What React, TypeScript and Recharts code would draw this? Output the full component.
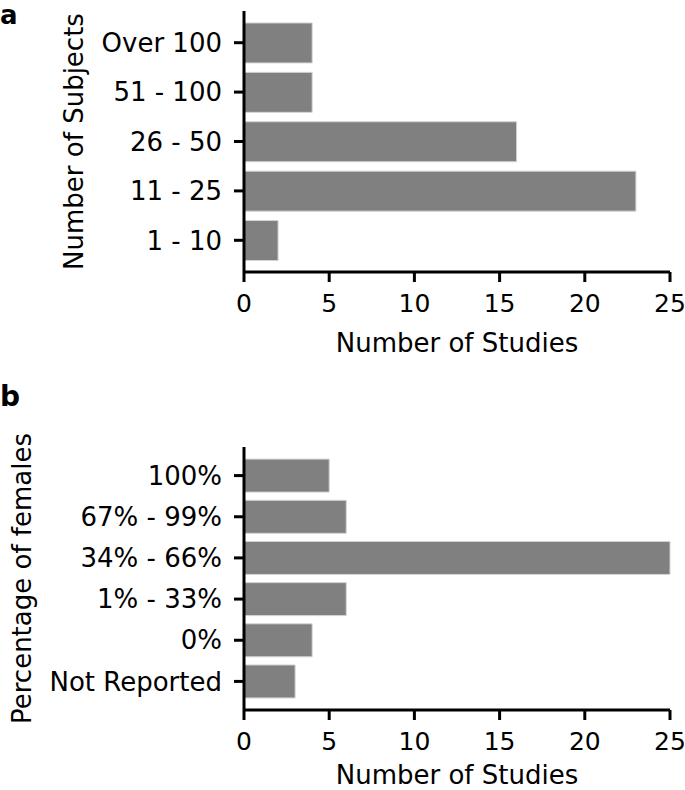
import React from "react";
import { BarChart, Bar, XAxis, YAxis, Label } from "recharts";

const subjectGroups = ["Over 100", "51 - 100", "26 - 50", "11 - 25", "1 - 10"];
const subjectStudies = [4, 4, 16, 23, 2];

const femaleGroups = ["100%", "67% - 99%", "34% - 66%", "1% - 33%", "0%", "Not Reported"];
const femaleStudies = [5, 6, 25, 6, 4, 3];

const studyTicks = [0, 5, 10, 15, 20, 25];

const FONT = "'DejaVu Sans', sans-serif";
const AXIS = { stroke: "#000", strokeWidth: 3 };
const TICK = { fill: "#000", fontSize: 26, fontFamily: FONT };
const XTICK = { fill: "#000", fontSize: 25, fontFamily: FONT };

interface PanelProps {
  groups: string[];
  values: number[];
  height: number;
  top: number;
  xAxisHeight: number;
  pad: number;
  yLabel: string;
  yLabelX: number;
  xLabelOffset: number;
}

const Panel = ({ groups, values, height, top, xAxisHeight, pad, yLabel, yLabelX, xLabelOffset }: PanelProps) => {
  const rows = groups.map((g, i) => ({ group: g, studies: values[i] }));
  return (
    <BarChart
      width={685}
      height={height}
      data={rows}
      layout="vertical"
      barCategoryGap="10%"
      margin={{ top: top, right: 15, left: 0, bottom: 0 }}
    >
      <XAxis
        type="number"
        domain={[0, 25]}
        ticks={studyTicks}
        interval={0}
        height={xAxisHeight}
        tickSize={10}
        tickMargin={12}
        axisLine={AXIS}
        tickLine={AXIS}
        tick={XTICK}
      >
        <Label
          value="Number of Studies"
          position="insideBottom"
          offset={xLabelOffset}
          fill="#000"
          fontSize={26}
          fontFamily={FONT}
        />
      </XAxis>
      <YAxis
        type="category"
        dataKey="group"
        width={244}
        padding={{ top: pad, bottom: pad }}
        interval={0}
        tickSize={10}
        tickMargin={12}
        axisLine={AXIS}
        tickLine={AXIS}
        tick={TICK}
      >
        <Label
          content={(p: any) => {
            const cy = p.viewBox.y + p.viewBox.height / 2;
            return (
              <text
                x={yLabelX}
                y={cy}
                transform={`rotate(-90, ${yLabelX}, ${cy})`}
                textAnchor="middle"
                fill="#000"
                fontSize={26}
                fontFamily={FONT}
              >
                {yLabel}
              </text>
            );
          }}
        />
      </YAxis>
      <Bar dataKey="studies" fill="#808080" stroke="#d4d4d4" strokeWidth={1} isAnimationActive={false} />
    </BarChart>
  );
};

export default function App() {
  return (
    <div style={{ position: "absolute", left: 0, top: 0, width: 685, height: 790, background: "#fff" }}>
      <Panel
        groups={subjectGroups}
        values={subjectStudies}
        height={360}
        top={11}
        xAxisHeight={88}
        pad={7}
        yLabel="Number of Subjects"
        yLabelX={83}
        xLabelOffset={8}
      />
      <Panel
        groups={femaleGroups}
        values={femaleStudies}
        height={430}
        top={87}
        xAxisHeight={80}
        pad={8}
        yLabel="Percentage of females"
        yLabelX={31}
        xLabelOffset={6}
      />
      <svg width={685} height={790} style={{ position: "absolute", left: 0, top: 0, pointerEvents: "none" }}>
        <text x={0} y={24} fontSize={26} fontWeight="bold" fontFamily={FONT} fill="#000">a</text>
        <text x={0} y={406} fontSize={28} fontWeight="bold" fontFamily={FONT} fill="#000">b</text>
      </svg>
    </div>
  );
}
